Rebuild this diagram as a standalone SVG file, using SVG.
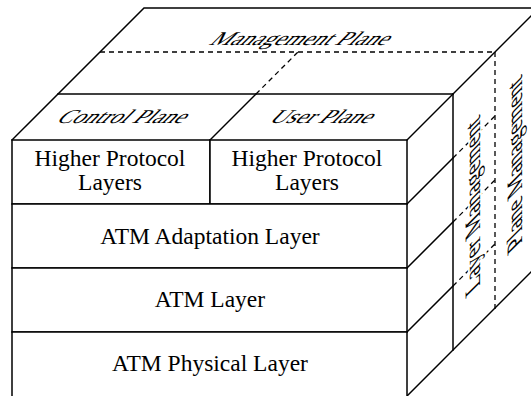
<svg xmlns="http://www.w3.org/2000/svg" width="531" height="396" viewBox="0 0 531 396">
<style>
.edge{fill:none;stroke:#000;stroke-width:1.5;stroke-linecap:square}
.box{fill:#fff;stroke:#000;stroke-width:1.5}
.dash{fill:none;stroke:#000;stroke-width:1.3;stroke-dasharray:5,4}
.lbl{font-family:"Liberation Serif","Times New Roman",serif;font-size:23.5px;fill:#000;text-anchor:middle}
.pl{font-family:"Liberation Serif","Times New Roman",serif;font-size:23px;fill:#000;text-anchor:middle;stroke:#fff;stroke-width:4;paint-order:stroke;stroke-linejoin:round}
.sd{font-family:"Liberation Serif","Times New Roman",serif;font-size:22px;fill:#000;text-anchor:middle;stroke:#fff;stroke-width:4;paint-order:stroke;stroke-linejoin:round}
</style>
<rect width="531" height="396" fill="#fff"/>
<g id="connectors">
  <path class="edge" d="M12,140 L144,8 L531,8"/>
  <path class="edge" d="M407,140 L531,16"/>
  <path class="edge" d="M58,94 L453,94"/>
  <path class="edge" d="M210,140 L256,94"/>
  <path class="edge" d="M453,94 L453,350"/>
  <path class="edge" d="M407,204 L453,158 M407,268 L453,222 M407,332 L453,286"/>
  <path class="edge" d="M407,396 L531,272"/>
  <path class="dash" d="M100,52 L495,52"/>
  <path class="dash" d="M256,94 L298,52"/>
  <path class="dash" d="M495,52 L495,309"/>
  <path class="dash" d="M453,158 L495,116 M453,222 L495,180 M453,286 L495,244"/>
</g>
<g id="management-plane">
  <text class="pl" transform="matrix(1,0,-0.85,0.85,296.5,45)">Management Plane</text>
</g>
<g id="control-plane">
  <text class="pl" transform="matrix(1,0,-0.85,0.85,118.5,123)">Control Plane</text>
</g>
<g id="user-plane">
  <text class="pl" transform="matrix(1,0,-0.85,0.85,318,123)">User Plane</text>
</g>
<g id="layer-management">
  <text class="sd" transform="matrix(0,-1,1,-1,480,199.5)">Layer Management</text>
</g>
<g id="plane-management">
  <text class="sd" transform="matrix(0,-1,1,-1,522,158)">Plane Management</text>
</g>
<g id="higher-protocol-control">
  <rect class="box" x="12" y="140" width="198" height="64"/>
  <text class="lbl" x="110" y="166">Higher Protocol</text>
  <text class="lbl" x="110" y="190">Layers</text>
</g>
<g id="higher-protocol-user">
  <rect class="box" x="210" y="140" width="197" height="64"/>
  <text class="lbl" x="307" y="166">Higher Protocol</text>
  <text class="lbl" x="307" y="190">Layers</text>
</g>
<g id="atm-adaptation-layer">
  <rect class="box" x="12" y="204" width="395" height="64"/>
  <text class="lbl" x="210" y="244">ATM Adaptation Layer</text>
</g>
<g id="atm-layer">
  <rect class="box" x="12" y="268" width="395" height="64"/>
  <text class="lbl" x="210" y="307">ATM Layer</text>
</g>
<g id="atm-physical-layer">
  <rect class="box" x="12" y="332" width="395" height="66"/>
  <text class="lbl" x="210" y="371">ATM Physical Layer</text>
</g>
</svg>
